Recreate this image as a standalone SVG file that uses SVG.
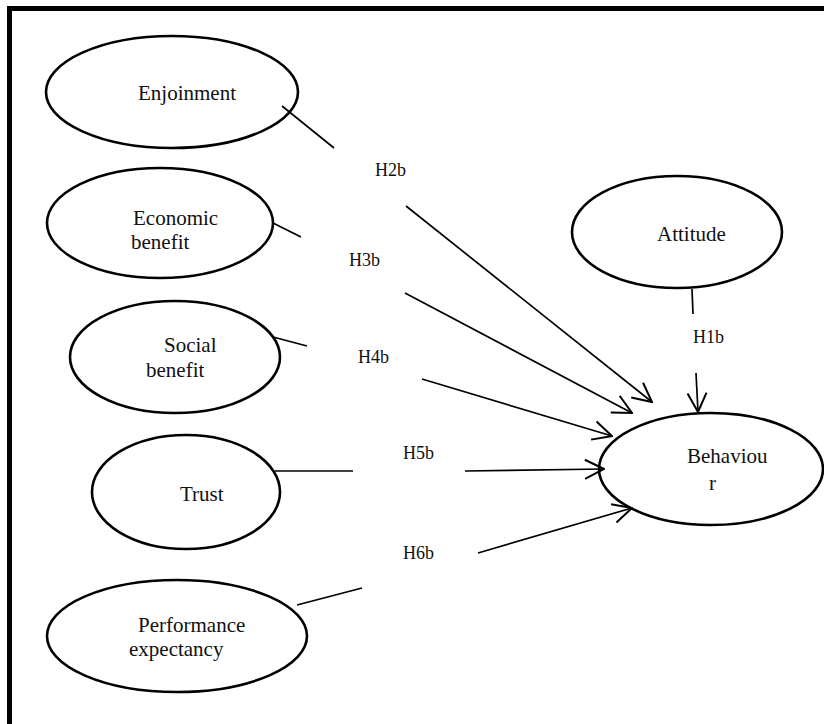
<svg xmlns="http://www.w3.org/2000/svg" width="824" height="724" viewBox="0 0 824 724">
<style>
.node ellipse{fill:#fff;stroke:#000;stroke-width:2.6}
text{font-family:"Liberation Serif","Times New Roman",serif;fill:#111}
.nt{font-size:21px}
.lb{font-size:18px}
.c line{stroke:#000;stroke-width:1.7;fill:none}
</style>
<defs>
<marker id="ah" viewBox="0 0 22 22" refX="21" refY="11" markerWidth="22" markerHeight="22" markerUnits="userSpaceOnUse" orient="auto">
<path d="M2,1.5 L21,11 L2,20.5" fill="none" stroke="#000" stroke-width="2"/>
</marker>
</defs>
<rect x="0" y="0" width="824" height="724" fill="#fff"/>
<g id="frame">
<rect x="7" y="6" width="817" height="5" fill="#000"/>
<rect x="7" y="6" width="5" height="718" fill="#000"/>
</g>
<g id="n-enjoinment" class="node"><ellipse cx="172" cy="92" rx="126" ry="56"/><text class="nt" x="138" y="100">Enjoinment</text></g>
<g id="n-economic" class="node"><ellipse cx="160" cy="223" rx="113" ry="55"/><text class="nt" x="133" y="225">Economic</text><text class="nt" x="131" y="249">benefit</text></g>
<g id="n-social" class="node"><ellipse cx="175" cy="357" rx="105" ry="56"/><text class="nt" x="164" y="352">Social</text><text class="nt" x="146" y="377">benefit</text></g>
<g id="n-trust" class="node"><ellipse cx="186" cy="492" rx="94" ry="57"/><text class="nt" x="180" y="501">Trust</text></g>
<g id="n-performance" class="node"><ellipse cx="177" cy="636" rx="130" ry="56"/><text class="nt" x="138" y="632">Performance</text><text class="nt" x="129" y="656">expectancy</text></g>
<g id="n-attitude" class="node"><ellipse cx="677" cy="232" rx="105" ry="56"/><text class="nt" x="657" y="241">Attitude</text></g>
<g id="n-behaviour" class="node"><ellipse cx="711" cy="469" rx="112" ry="56"/><text class="nt" x="687" y="463">Behaviou</text><text class="nt" x="709" y="490">r</text></g>
<g id="connectors" class="c">
<line x1="282" y1="106" x2="334" y2="148"/>
<line x1="406" y1="206" x2="652" y2="402" marker-end="url(#ah)"/>
<line x1="273" y1="223" x2="301" y2="237"/>
<line x1="405" y1="293" x2="632" y2="413" marker-end="url(#ah)"/>
<line x1="273" y1="337" x2="307" y2="346"/>
<line x1="422" y1="379" x2="612" y2="436" marker-end="url(#ah)"/>
<line x1="275" y1="471" x2="353" y2="471"/>
<line x1="465" y1="471" x2="604" y2="469" marker-end="url(#ah)"/>
<line x1="297" y1="605" x2="362" y2="588"/>
<line x1="478" y1="553" x2="632" y2="508" marker-end="url(#ah)"/>
<line x1="692" y1="289" x2="693" y2="314"/>
<line x1="696" y1="373" x2="698" y2="412" marker-end="url(#ah)"/>
<text class="lb" x="375" y="176">H2b</text>
<text class="lb" x="349" y="266">H3b</text>
<text class="lb" x="358" y="363">H4b</text>
<text class="lb" x="403" y="459">H5b</text>
<text class="lb" x="403" y="559">H6b</text>
<text class="lb" x="693" y="343">H1b</text>
</g>
</svg>
